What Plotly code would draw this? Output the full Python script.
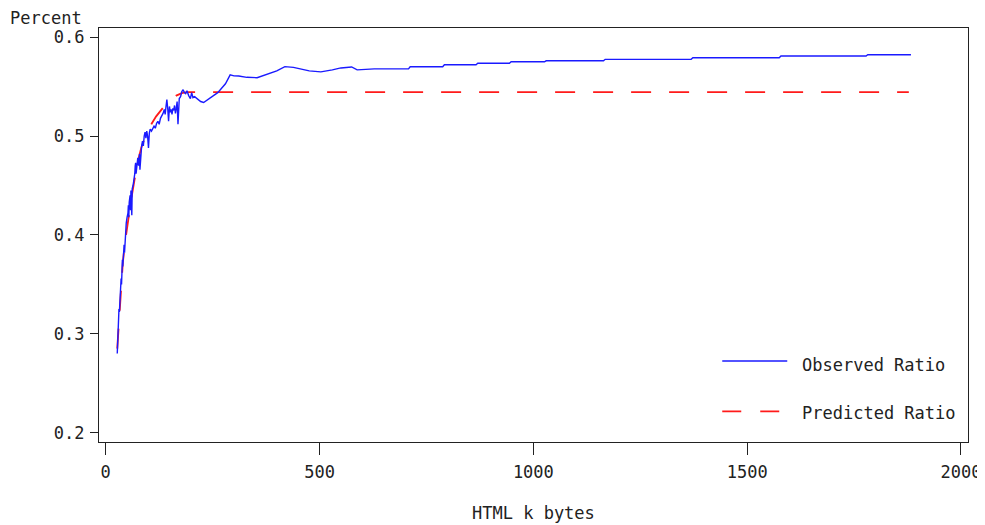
import plotly.graph_objects as go

# Observed ratio (HTML k bytes vs percent)
obs_x = [27, 28, 29, 30, 31, 32, 34, 36, 37, 38, 39, 40, 42, 43, 44, 45, 46, 47, 48, 50,
         52, 53, 54, 55, 57, 58, 59, 61, 62, 64, 66, 68, 69, 70, 71, 73, 75, 77, 79, 80,
         82, 84, 86, 88, 90, 92, 94, 96, 98, 100, 102, 104, 107, 110, 113, 116, 119, 122, 125, 128,
         131, 134, 137, 139, 141, 143, 145, 147, 149, 151, 153, 155, 157, 159, 161, 163, 165, 167, 169, 170,
         172, 175, 178, 181, 184, 187, 190, 194, 198, 201, 204, 208, 215, 222, 229, 240, 252, 262, 271, 280,
         291, 300, 311, 330, 354, 380, 400, 419, 439, 476, 503, 530, 550, 575, 588, 628, 708, 712, 788, 792,
         866, 870, 944, 948, 1026, 1030, 1164, 1168, 1369, 1373, 1575, 1579, 1778, 1782, 1883]
obs_y = [0.280, 0.295, 0.290, 0.310, 0.325, 0.322, 0.345, 0.356, 0.350, 0.368, 0.375, 0.368, 0.385, 0.390, 0.382, 0.395, 0.408, 0.405, 0.412, 0.418,
         0.422, 0.430, 0.418, 0.433, 0.440, 0.425, 0.445, 0.420, 0.447, 0.450, 0.455, 0.462, 0.470, 0.473, 0.462, 0.475, 0.478, 0.470, 0.482, 0.466,
         0.485, 0.490, 0.495, 0.490, 0.500, 0.504, 0.498, 0.505, 0.500, 0.488, 0.503, 0.507, 0.505, 0.508, 0.510, 0.508, 0.513, 0.515, 0.512, 0.518,
         0.520, 0.523, 0.527, 0.522, 0.530, 0.537, 0.528, 0.515, 0.530, 0.524, 0.527, 0.522, 0.528, 0.526, 0.531, 0.523, 0.528, 0.535, 0.512, 0.532,
         0.538, 0.540, 0.545, 0.547, 0.544, 0.543, 0.546, 0.541, 0.538, 0.544, 0.539, 0.540, 0.537, 0.535, 0.534, 0.537, 0.541, 0.544, 0.548, 0.553,
         0.562, 0.561, 0.5608, 0.5595, 0.5591, 0.5628, 0.566, 0.5703, 0.5696, 0.566, 0.565, 0.567, 0.569, 0.570, 0.567, 0.568, 0.568, 0.5702, 0.5702, 0.5722,
         0.5722, 0.5737, 0.5737, 0.5752, 0.5752, 0.5762, 0.5762, 0.5777, 0.5777, 0.5793, 0.5793, 0.5811, 0.5811, 0.5824, 0.5824]

# Predicted ratio
pred_x = [27, 30, 33, 36, 40, 45, 50, 55, 60, 67, 75, 83, 92, 100, 108, 118, 128, 140, 152, 165,
          178, 190, 1878]
pred_y = [0.285, 0.305, 0.330, 0.350, 0.372, 0.392, 0.408, 0.422, 0.437, 0.455, 0.474, 0.488, 0.499, 0.506, 0.513, 0.520, 0.526, 0.532, 0.537, 0.541,
          0.5435, 0.5445, 0.5445]

x_ticks = [0, 500, 1000, 1500, 2000]
y_ticks = [0.2, 0.3, 0.4, 0.5, 0.6]
y_tick_text = ["0.2", "0.3", "0.4", "0.5", "0.6"]

FONT = "DejaVu Sans Mono"
INK = "#222222"

fig = go.Figure()
fig.add_trace(go.Scatter(x=pred_x, y=pred_y, mode="lines", name="Predicted Ratio",
                         line=dict(color="#ff1a1a", width=1.8, dash="20px,18px")))
fig.add_trace(go.Scatter(x=obs_x, y=obs_y, mode="lines", name="Observed Ratio",
                         line=dict(color="#1a1aff", width=1.4)))

# page body has an 8px margin, so the figure is sized/offset to compensate
fig.update_layout(
    width=977, height=517,
    margin=dict(l=91, r=17, t=20, b=83, autoexpand=False),
    paper_bgcolor="white", plot_bgcolor="white",
    showlegend=False,
    font=dict(family=FONT, size=17, color=INK),
    xaxis=dict(range=[-15.7, 2016.4], tickvals=x_ticks, ticks="outside", ticklen=12,
               tickwidth=1.4, tickcolor=INK, showline=True, linecolor=INK, linewidth=1.4,
               mirror=True, showgrid=False, zeroline=False, ticklabelstandoff=2, automargin=False),
    yaxis=dict(range=[0.1905, 0.6094], tickvals=y_ticks, ticktext=y_tick_text, ticks="outside",
               ticklen=8, tickwidth=1.4, tickcolor=INK, showline=True, linecolor=INK, linewidth=1.4,
               mirror=True, showgrid=False, zeroline=False, ticklabelstandoff=2, automargin=False),
)

# Axis titles
fig.add_annotation(text="Percent", xref="paper", yref="paper", x=-0.1048, y=1.024,
                   xanchor="left", yanchor="middle", showarrow=False)
fig.add_annotation(text="HTML k bytes", xref="paper", yref="paper", x=0.5, y=-0.172,
                   xanchor="center", yanchor="middle", showarrow=False)

# Custom legend
fig.add_shape(type="line", xref="paper", yref="paper", x0=0.7172, x1=0.7920, y0=0.1958, y1=0.1958,
              line=dict(color="#1a1aff", width=1.4))
fig.add_shape(type="line", xref="paper", yref="paper", x0=0.7172, x1=0.7828, y0=0.0742, y1=0.0742,
              line=dict(color="#ff1a1a", width=1.8, dash="19px,19px"))
fig.add_annotation(text="Observed Ratio", xref="paper", yref="paper", x=0.807, y=0.1854,
                   xanchor="left", yanchor="middle", showarrow=False)
fig.add_annotation(text="Predicted Ratio", xref="paper", yref="paper", x=0.807, y=0.0694,
                   xanchor="left", yanchor="middle", showarrow=False)

fig.write_html("out.html")
